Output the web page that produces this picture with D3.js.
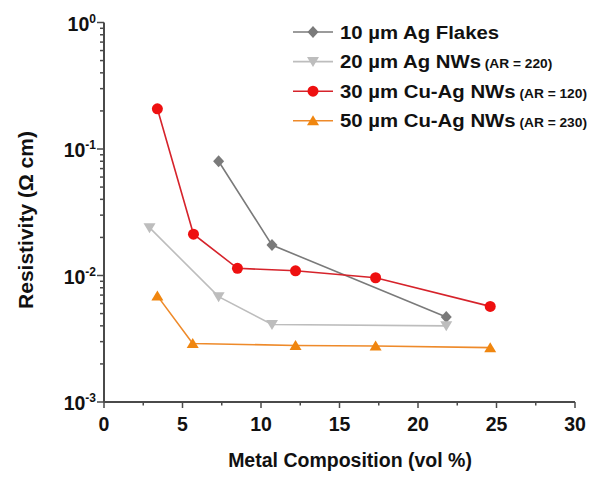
<html>
<head>
<script src="https://d3js.org/d3.v7.min.js"></script>
<style>
    body { margin: 0; background: #fff; font-family: "Liberation Sans", Arial, sans-serif; }
    text { font-weight: bold; fill: #111; }
</style>
</head>
<body>
<div id="chart"></div>
<script>
// data
const flakesX = [7.3, 10.7, 21.8];
const flakesY = [0.080, 0.0174, 0.0047];
const agNwX = [2.9, 7.3, 10.7, 21.8];
const agNwY = [0.0239, 0.0068, 0.0041, 0.0040];
const cuAg120X = [3.4, 5.7, 8.5, 12.2, 17.3, 24.6];
const cuAg120Y = [0.208, 0.0212, 0.0114, 0.0109, 0.0096, 0.0057];
const cuAg230X = [3.4, 5.65, 12.2, 17.3, 24.6];
const cuAg230Y = [0.0069, 0.0029, 0.0028, 0.00277, 0.00269];
const xTicks = [0, 5, 10, 15, 20, 25, 30];
const yExponents = [0, -1, -2, -3];

const series = [
    {name: "10 \u00b5m Ag Flakes", ar: "", xs: flakesX, ys: flakesY, line: "#7a7a7a", fill: "#7a7a7a", sym: "diamond"},
    {name: "20 \u00b5m Ag NWs", ar: " (AR = 220)", xs: agNwX, ys: agNwY, line: "#bdbdbd", fill: "#bdbdbd", sym: "down"},
    {name: "30 \u00b5m Cu-Ag NWs", ar: " (AR = 120)", xs: cuAg120X, ys: cuAg120Y, line: "#d6232b", fill: "#ee1010", sym: "circle"},
    {name: "50 \u00b5m Cu-Ag NWs", ar: " (AR = 230)", xs: cuAg230X, ys: cuAg230Y, line: "#ee8a2a", fill: "#f0860f", sym: "up"}
];

const W = 590, H = 477;
const svg = d3.select("#chart").append("svg").attr("width", W).attr("height", H);

const x = d3.scaleLinear().domain([0, 30]).range([104, 575]);
const y = d3.scaleLog().domain([1e-3, 1]).range([402, 22.5]);

const axisColor = "#4a4a4a";

// x axis
const gx = svg.append("g").attr("transform", `translate(0, ${y(1e-3)})`);
gx.append("line").attr("x1", x(0)).attr("x2", x(30)).attr("stroke", axisColor).attr("stroke-width", 2);
gx.selectAll(".minor").data(d3.range(2.5, 30, 5)).join("line")
    .attr("x1", d => x(d)).attr("x2", d => x(d)).attr("y1", 0).attr("y2", 3.5)
    .attr("stroke", axisColor).attr("stroke-width", 1.5);
gx.selectAll(".major").data(xTicks).join("line")
    .attr("x1", d => x(d)).attr("x2", d => x(d)).attr("y1", 0).attr("y2", 6)
    .attr("stroke", axisColor).attr("stroke-width", 1.5);
gx.selectAll("text").data(xTicks).join("text")
    .attr("x", d => x(d)).attr("y", 29).attr("text-anchor", "middle")
    .attr("font-size", 19.5).text(d => d);

// y axis
const gy = svg.append("g");
gy.append("line").attr("x1", x(0)).attr("x2", x(0)).attr("y1", y(1)).attr("y2", y(1e-3))
    .attr("stroke", axisColor).attr("stroke-width", 2);
const minors = [];
yExponents.slice(0, 3).forEach(e => {
    for (let k = 2; k <= 9; k++) minors.push(k * Math.pow(10, e - 1));
});
gy.selectAll(".minor").data(minors).join("line")
    .attr("x1", x(0) - 4).attr("x2", x(0)).attr("y1", d => y(d)).attr("y2", d => y(d))
    .attr("stroke", axisColor).attr("stroke-width", 1.5);
gy.selectAll(".major").data(yExponents).join("line")
    .attr("x1", x(0) - 7).attr("x2", x(0)).attr("y1", d => y(Math.pow(10, d))).attr("y2", d => y(Math.pow(10, d)))
    .attr("stroke", axisColor).attr("stroke-width", 1.5);
const yl = gy.selectAll("text").data(yExponents).join("text")
    .attr("x", 96).attr("y", d => y(Math.pow(10, d)) + 8).attr("text-anchor", "end")
    .attr("font-size", 19.5);
yl.append("tspan").text("10");
yl.append("tspan").attr("dy", -8).attr("font-size", 12).text(d => d === 0 ? "0" : d);

// axis titles
svg.append("text").attr("x", 350).attr("y", 467).attr("text-anchor", "middle")
    .attr("font-size", 19.5).text("Metal Composition (vol %)");
svg.append("text").attr("transform", "translate(33, 220) rotate(-90)").attr("text-anchor", "middle")
    .attr("font-size", 21).text("Resistivity (\u03a9 cm)");

function marker(g, sym, cx, cy, fill) {
    if (sym === "circle") {
        g.append("circle").attr("cx", cx).attr("cy", cy).attr("r", 5.5).attr("fill", fill);
    } else if (sym === "diamond") {
        g.append("path").attr("d", `M${cx},${cy - 6}L${cx + 5.5},${cy}L${cx},${cy + 6}L${cx - 5.5},${cy}Z`).attr("fill", fill);
    } else if (sym === "down") {
        g.append("path").attr("d", `M${cx - 6},${cy - 4.5}L${cx + 6},${cy - 4.5}L${cx},${cy + 5.5}Z`).attr("fill", fill);
    } else {
        g.append("path").attr("d", `M${cx - 6},${cy + 4.5}L${cx + 6},${cy + 4.5}L${cx},${cy - 5.5}Z`).attr("fill", fill);
    }
}

const line = d3.line().x(d => x(d[0])).y(d => y(d[1]));
series.forEach(s => {
    const pts = s.xs.map((v, i) => [v, s.ys[i]]);
    const g = svg.append("g");
    g.append("path").attr("d", line(pts)).attr("fill", "none").attr("stroke", s.line).attr("stroke-width", 1.6);
    pts.forEach(p => marker(g, s.sym, x(p[0]), y(p[1]), s.fill));
});

// legend
series.forEach((s, i) => {
    const ly = 32 + i * 29.6;
    const g = svg.append("g");
    g.append("line").attr("x1", 293).attr("x2", 333).attr("y1", ly).attr("y2", ly)
        .attr("stroke", s.line).attr("stroke-width", 1.6);
    marker(g, s.sym, 313, ly, s.fill);
    const t = g.append("text").attr("transform", `translate(340, ${ly + 6.5}) scale(1.1, 1)`).attr("font-size", 18.5);
    t.append("tspan").text(s.name);
    if (s.ar) t.append("tspan").attr("font-size", 12.5).text(s.ar);
});
</script>
</body>
</html>
